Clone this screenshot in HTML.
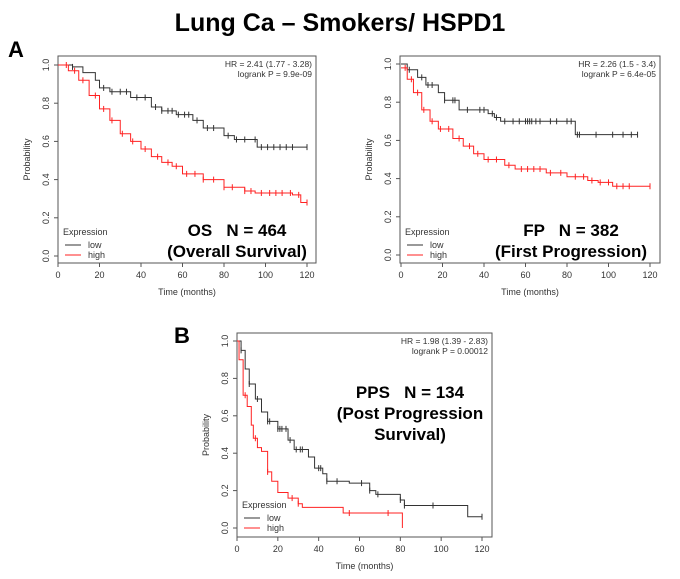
<!DOCTYPE html>
<html><head><meta charset="utf-8"><style>
body{margin:0;background:#fff;width:680px;height:574px;overflow:hidden}
svg text{font-family:"Liberation Sans",sans-serif;white-space:pre}
</style></head><body>
<svg id="s" width="680" height="574">
<text x="340" y="31" text-anchor="middle" font-size="25" font-weight="bold">Lung Ca – Smokers/ HSPD1</text>
<text x="8" y="57" font-size="22" font-weight="bold">A</text>
<text x="174" y="343" font-size="22" font-weight="bold">B</text>
</svg>
<script>
const xTicks=[0,20,40,60,80,100,120];
const yTicks=[0.0,0.2,0.4,0.6,0.8,1.0];
const osLowT=[0,7,12,18,20,25,35,45,50,57,65,70,80,85,96,120];
const osLowS=[1,0.99,0.96,0.92,0.88,0.86,0.83,0.78,0.76,0.74,0.71,0.67,0.63,0.61,0.57,0.57];
const osLowC=[7,22,26,30,33,38,42,47,50,53,55,58,61,63,67,72,75,82,86,90,95,98,101,104,107,110,113,120];
const osHighT=[0,5,10,15,20,25,30,35,40,45,50,55,60,70,80,90,95,113,117,120];
const osHighS=[1,0.97,0.92,0.84,0.77,0.71,0.64,0.6,0.56,0.52,0.49,0.47,0.43,0.4,0.36,0.34,0.33,0.32,0.28,0.28];
const osHighC=[4,8,12,18,22,26,31,36,42,48,53,57,62,66,70,75,80,84,90,93,98,102,105,108,112,116,120];
const fpLowT=[0,3,8,12,18,21,28,42,45,48,84,114];
const fpLowS=[1,0.97,0.93,0.89,0.85,0.81,0.76,0.74,0.72,0.7,0.63,0.63];
const fpLowC=[4,10,13,15,21,25,26,32,38,40,44,46,50,54,57,60,61,62,63,65,67,72,75,80,82,85,86,94,102,107,111,114];
const fpHighT=[0,3,6,10,14,18,25,30,35,40,50,55,70,80,90,95,102,120];
const fpHighS=[0.98,0.92,0.85,0.76,0.7,0.66,0.61,0.57,0.53,0.5,0.47,0.45,0.43,0.41,0.39,0.38,0.36,0.36];
const fpHighC=[2,5,8,11,15,19,23,28,33,37,42,46,52,58,61,64,67,72,77,84,88,92,96,100,104,107,110,120];
const ppsLowT=[0,2,4,6,9,12,15,20,25,28,35,38,42,44,55,65,68,80,82,113,120];
const ppsLowS=[1,0.95,0.85,0.77,0.69,0.62,0.57,0.53,0.47,0.42,0.38,0.32,0.29,0.25,0.24,0.2,0.18,0.15,0.12,0.06,0.06];
const ppsLowC=[2,6,10,15,16,20,21,22,24,26,29,31,32,40,41,44,49,61,65,69,80,82,96,120];
const ppsHighT=[0,1,3,5,7,8,10,12,15,17,20,25,30,32,52,81];
const ppsHighS=[1,0.9,0.71,0.65,0.55,0.48,0.43,0.41,0.3,0.25,0.19,0.16,0.13,0.11,0.08,0.0];
const ppsHighC=[4,9,15,27,30,55,74];
const NS="http://www.w3.org/2000/svg";
const svg=document.getElementById('s');
function mk(t,a,p){const e=document.createElementNS(NS,t);for(const k in a)e.setAttribute(k,a[k]);(p||svg).appendChild(e);return e;}
function stepAt(T,S,t){let v=S[0];for(let i=0;i<T.length;i++){if(T[i]<=t)v=S[i];}return v;}
function chart(o){
 const g=mk('g',{});
 
 
 const X=t=>o.x0+(o.x1-o.x0)*t/120, Y=s=>o.y0+(o.y1-o.y0)*s;
 const box=mk('rect',{x:o.bx0,y:o.by0,width:o.bx1-o.bx0,height:o.by1-o.by0,fill:'none',stroke:'#555','stroke-width':1},g);
 
 xTicks.forEach(v=>{mk('line',{x1:X(v),x2:X(v),y1:o.by1,y2:o.by1+4,stroke:'#555'},g);
  const t=mk('text',{x:X(v),y:o.by1+15,'text-anchor':'middle','font-size':9,fill:'#333'},g);t.textContent=v;
  });
 yTicks.forEach(v=>{mk('line',{x1:o.bx0-4,x2:o.bx0,y1:Y(v),y2:Y(v),stroke:'#555'},g);
  const t=mk('text',{x:o.bx0-9,y:Y(v),'text-anchor':'middle','font-size':9,fill:'#333',transform:`rotate(-90 ${o.bx0-9} ${Y(v)})`},g);t.textContent=v.toFixed(1);
  });
 let t=mk('text',{x:(o.bx0+o.bx1)/2,y:o.by1+32,'text-anchor':'middle','font-size':9,fill:'#333'},g);t.textContent='Time (months)';
 
 const ym=(o.by0+o.by1)/2;
 t=mk('text',{x:o.bx0-28,y:ym,'text-anchor':'middle','font-size':9,fill:'#333',transform:`rotate(-90 ${o.bx0-28} ${ym})`},g);t.textContent='Probability';
 
 o.stats.forEach((s,i)=>{const e=mk('text',{x:o.bx1-4,y:o.by0+11+i*10,'text-anchor':'end','font-size':8.5,fill:'#333'},g);e.textContent=s;
  });
 [[o.lowT,o.lowS,o.lowC,'#333','low-curve'],[o.highT,o.highS,o.highC,'#f22','high-curve']].forEach(([T,S,C,col,nm])=>{
  let d=`M${X(T[0])},${Y(S[0])}`;
  for(let i=1;i<T.length;i++){d+=`H${X(T[i])}V${Y(S[i])}`;}
  const p=mk('path',{d:d,fill:'none',stroke:col,'stroke-width':1},g);
  
  C.forEach(c=>{const cx=X(c),cy=Y(stepAt(T,S,c));
   const m=mk('path',{d:`M${cx},${cy-3}V${cy+3}`,stroke:col,'stroke-width':1},g);
   });
 });
 const lg=mk('g',{},g);
 const lx=o.bx0+3, ly=o.ly;
 t=mk('text',{x:lx+2,y:ly,'font-size':9,fill:'#333'},lg);t.textContent='Expression';
 mk('line',{x1:lx+4,x2:lx+20,y1:ly+10,y2:ly+10,stroke:'#333'},lg);
 t=mk('text',{x:lx+27,y:ly+13,'font-size':9,fill:'#333'},lg);t.textContent='low';
 mk('line',{x1:lx+4,x2:lx+20,y1:ly+20,y2:ly+20,stroke:'#f22'},lg);
 t=mk('text',{x:lx+27,y:ly+23,'font-size':9,fill:'#333'},lg);t.textContent='high';
 o.big.forEach((s,i)=>{const e=mk('text',{x:o.bigX,y:o.bigY+i*21,'text-anchor':'middle','font-size':17,'font-weight':'bold',fill:'#000'},g);e.textContent=s;
  });
}
chart({name:'os-chart',bx0:58,bx1:316,by0:56,by1:263,x0:58,x1:307,y0:256,y1:65,stats:['HR = 2.41 (1.77 - 3.28)','logrank P = 9.9e-09'],
 lowT:osLowT,lowS:osLowS,lowC:osLowC,highT:osHighT,highS:osHighS,highC:osHighC,ly:235,big:['OS   N = 464','(Overall Survival)'],bigX:237,bigY:236});
chart({name:'fp-chart',bx0:400,bx1:660,by0:56,by1:263,x0:401,x1:650,y0:255,y1:64,stats:['HR = 2.26 (1.5 - 3.4)','logrank P = 6.4e-05'],
 lowT:fpLowT,lowS:fpLowS,lowC:fpLowC,highT:fpHighT,highS:fpHighS,highC:fpHighC,ly:235,big:['FP   N = 382','(First Progression)'],bigX:571,bigY:236});
chart({name:'pps-chart',bx0:237,bx1:492,by0:333,by1:537,x0:237,x1:482,y0:528,y1:341,stats:['HR = 1.98 (1.39 - 2.83)','logrank P = 0.00012'],
 lowT:ppsLowT,lowS:ppsLowS,lowC:ppsLowC,highT:ppsHighT,highS:ppsHighS,highC:ppsHighC,ly:508,big:['PPS   N = 134','(Post Progression','Survival)'],bigX:410,bigY:398});
</script>
</body></html>
